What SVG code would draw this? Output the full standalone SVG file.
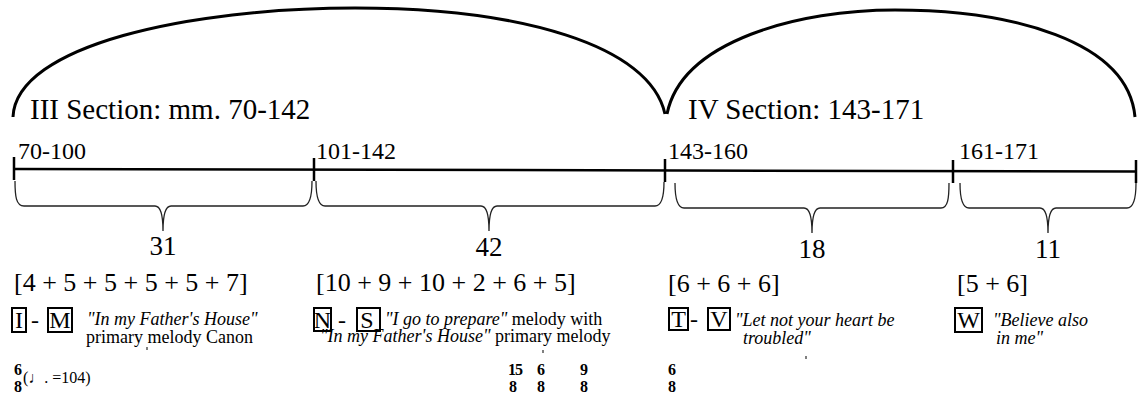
<svg xmlns="http://www.w3.org/2000/svg" width="1139" height="402" viewBox="0 0 1139 402">
<style>
text{font-family:"Liberation Serif","Times New Roman","DejaVu Serif",serif;fill:#000}
.arc{fill:none;stroke:#000;stroke-width:3}
.ax{fill:none;stroke:#000;stroke-width:2.5}
.br{fill:none;stroke:#222;stroke-width:1.3}
.bx{fill:none;stroke:#000;stroke-width:2}
.it{font-style:italic}
.b{font-weight:bold}
</style>
<rect width="1139" height="402" fill="#fff"/>
<g id="connectors">
<path class="arc" d="M13,117 C16,45 190,8 355,8 C520,8 650,45 665,114"/>
<path class="arc" d="M667,114 C682,40 800,10 895,10 C1010,10 1128,40 1135,117"/>
<path class="ax" d="M14,169 L1136,171.5"/>
<path class="ax" d="M14,157 V180 M314,158 V181 M665,159 V182 M953,160 V183 M1136,160 V183"/>
<path class="br" d="M15,181 C15,196 16,206 24,206 L155,206 C160,206 163,212 163,231 C163,212 166,206 171,206 L303,206 C310,206 312,196 312,181"/>
<path class="br" d="M316,181 C316,196 318,206 325,206 L481,206 C486,206 489,212 489,231 C489,212 492,206 497,206 L655,206 C662,206 664,196 664,182"/>
<path class="br" d="M675,183 C675,198 677,208 684,208 L804,208 C809,208 812,214 812,233 C812,214 815,208 820,208 L941,208 C948,208 949,198 949,183"/>
<path class="br" d="M960,183 C960,198 962,208 969,208 L1040,208 C1045,208 1048,214 1048,233 C1048,214 1051,208 1056,208 L1127,208 C1134,208 1136,198 1136,183"/>
</g>
<g id="section3">
<text x="30" y="119" font-size="29">III Section: mm. 70-142</text>
</g>
<g id="section4">
<text x="688" y="119" font-size="29">IV Section: 143-171</text>
</g>
<g id="seg1">
<text x="18" y="159" font-size="24">70-100</text>
<text x="163" y="255" font-size="27" text-anchor="middle">31</text>
<text x="14" y="291" font-size="26">[4 + 5 + 5 + 5 + 5 + 7]</text>
<rect class="bx" x="12" y="308" width="14" height="24"/>
<text x="19" y="328" font-size="24" text-anchor="middle">I</text>
<text x="35" y="328" font-size="24" text-anchor="middle">-</text>
<rect class="bx" x="48" y="308" width="24" height="24"/>
<text x="60" y="328" font-size="24" text-anchor="middle">M</text>
<text class="it" x="87" y="325" font-size="18">"In my Father's House"</text>
<text x="86" y="343" font-size="18">primary melody Canon</text>
<path d="M147,347 v3" stroke="#000" stroke-width="1"/>
<text class="b" x="14" y="375" font-size="16">6</text>
<text class="b" x="14" y="392" font-size="16">8</text>
<text x="23" y="383" font-size="16">(♩. =104)</text>
</g>
<g id="seg2">
<text x="316" y="159" font-size="24">101-142</text>
<text x="489" y="256" font-size="27" text-anchor="middle">42</text>
<text x="316" y="291" font-size="26">[10 + 9 + 10 + 2 + 6 + 5]</text>
<rect class="bx" x="314" y="308" width="17" height="23"/>
<text x="322.5" y="328" font-size="24" text-anchor="middle">N</text>
<text x="342" y="328" font-size="24" text-anchor="middle">-</text>
<rect class="bx" x="357" y="308" width="23" height="23"/>
<text x="367" y="328" font-size="24" text-anchor="middle">S</text>
<text x="385" y="325" font-size="18"><tspan class="it">"I go to prepare"</tspan> melody with</text>
<text x="320" y="342" font-size="18"><tspan class="it">"In my Father's House"</tspan> primary melody</text>
<path d="M543,350 v3" stroke="#000" stroke-width="1"/>
<text class="b" x="508" y="375" font-size="16" letter-spacing="-1">15</text>
<text class="b" x="509" y="392" font-size="16">8</text>
<text class="b" x="537" y="375" font-size="16">6</text>
<text class="b" x="537" y="392" font-size="16">8</text>
<text class="b" x="580" y="375" font-size="16">9</text>
<text class="b" x="580" y="392" font-size="16">8</text>
</g>
<g id="seg3">
<text x="668" y="159" font-size="24">143-160</text>
<text x="812" y="258" font-size="27" text-anchor="middle">18</text>
<text x="668" y="292" font-size="26">[6 + 6 + 6]</text>
<rect class="bx" x="669" y="308" width="19" height="22"/>
<text x="678.5" y="327" font-size="24" text-anchor="middle">T</text>
<text x="694" y="327" font-size="24" text-anchor="middle">-</text>
<rect class="bx" x="708" y="308" width="22" height="22"/>
<text x="719" y="327" font-size="24" text-anchor="middle">V</text>
<text class="it" x="735" y="326" font-size="18">"Let not your heart be</text>
<text class="it" x="743" y="344" font-size="18">troubled"</text>
<path d="M806,356 v3" stroke="#000" stroke-width="1"/>
<text class="b" x="668" y="375" font-size="16">6</text>
<text class="b" x="668" y="392" font-size="16">8</text>
</g>
<g id="seg4">
<text x="959" y="159" font-size="24">161-171</text>
<text x="1048" y="258" font-size="27" text-anchor="middle">11</text>
<text x="957" y="292" font-size="26">[5 + 6]</text>
<rect class="bx" x="955" y="308" width="27" height="24"/>
<text x="968.5" y="328" font-size="24" text-anchor="middle">W</text>
<text class="it" x="993" y="326" font-size="18">"Believe also</text>
<text class="it" x="996" y="344" font-size="18">in me"</text>
</g>
</svg>
